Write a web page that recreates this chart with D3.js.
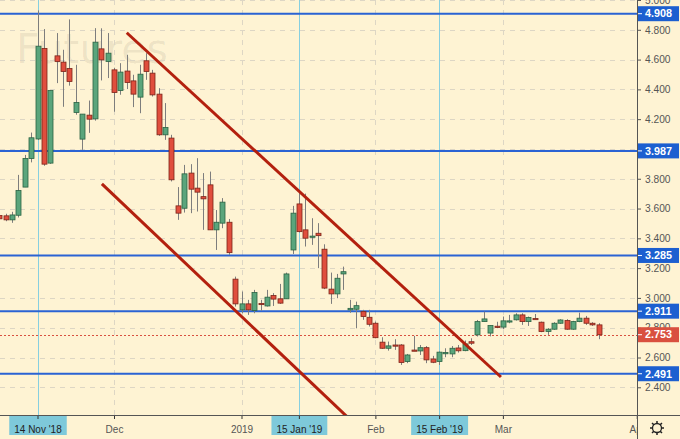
<!DOCTYPE html>
<html><head><meta charset="utf-8">
<script src="https://cdn.jsdelivr.net/npm/d3@7"></script>
<style>
html,body{margin:0;padding:0;background:#fef3d3;}
svg{display:block;font-family:"Liberation Sans",Arial,sans-serif;}
</style></head>
<body><svg id="c" width="680" height="439"></svg>
<script>
// ---- data ----
const startIndex = -2;
const opens  = [3.553,3.551,3.524,3.555,3.744,3.936,4.067,4.675,3.905,4.625,4.583,4.540,4.245,4.066,4.227,4.202,4.672,4.587,4.531,4.392,4.523,4.457,4.348,4.592,4.509,4.368,4.095,4.073,3.618,3.602,3.838,3.737,3.680,3.759,3.457,3.502,3.508,3.126,2.920,2.960,2.915,2.963,2.946,3.016,2.994,2.994,3.322,3.631,3.457,3.408,3.434,3.327,3.059,3.027,3.161,2.920,2.924,2.908,2.870,2.830,2.703,2.662,2.684,2.684,2.573,2.650,2.644,2.666,2.590,2.573,2.627,2.624,2.664,2.646,2.706,2.752,2.841,2.764,2.810,2.804,2.843,2.853,2.886,2.841,2.862,2.837,2.775,2.790,2.830,2.848,2.790,2.841,2.864,2.830,2.819];
const highs  = [3.560,3.565,3.578,3.826,3.960,4.110,4.930,4.805,4.392,4.778,4.666,4.870,4.565,4.234,4.325,4.811,4.810,4.778,4.545,4.576,4.632,4.498,4.565,4.643,4.531,4.408,4.308,4.095,3.744,3.893,3.898,3.938,3.838,3.848,3.590,3.670,3.530,3.143,3.043,2.987,3.054,2.987,3.054,3.032,3.094,3.170,3.618,3.703,3.700,3.535,3.502,3.360,3.170,3.161,3.210,2.987,2.975,2.920,2.920,2.841,2.736,2.707,2.723,2.690,2.624,2.745,2.684,2.677,2.611,2.640,2.662,2.677,2.684,2.714,2.729,2.852,2.908,2.815,2.840,2.875,2.886,2.897,2.897,2.875,2.892,2.841,2.797,2.837,2.857,2.857,2.846,2.901,2.879,2.837,2.830];
const lows   = [3.520,3.515,3.504,3.540,3.744,3.910,4.060,3.887,3.900,4.442,4.283,4.425,4.230,3.994,4.108,4.190,4.460,4.476,4.250,4.364,4.402,4.281,4.240,4.464,4.352,4.088,4.061,3.782,3.524,3.573,3.569,3.580,3.457,3.457,3.322,3.468,3.289,2.942,2.897,2.886,2.897,2.915,2.942,2.946,2.960,2.994,3.295,3.439,3.345,3.356,3.200,3.059,2.960,2.998,3.054,2.900,2.796,2.853,2.808,2.729,2.658,2.646,2.651,2.550,2.562,2.643,2.617,2.562,2.562,2.550,2.602,2.602,2.633,2.642,2.684,2.741,2.841,2.742,2.797,2.790,2.830,2.848,2.819,2.812,2.858,2.770,2.752,2.786,2.826,2.786,2.786,2.837,2.819,2.812,2.723];
const closes = [3.531,3.524,3.557,3.721,3.936,4.075,4.690,3.898,4.392,4.587,4.520,4.453,4.312,4.234,4.200,4.717,4.598,4.643,4.379,4.516,4.446,4.368,4.502,4.520,4.363,4.095,4.144,3.793,3.569,3.833,3.730,3.710,3.665,3.457,3.508,3.643,3.304,2.960,2.960,2.920,3.036,2.958,3.005,2.992,2.965,3.161,3.569,3.445,3.401,3.415,3.418,3.066,3.027,3.132,3.176,2.930,2.948,2.875,2.823,2.733,2.662,2.678,2.678,2.566,2.617,2.645,2.666,2.584,2.568,2.636,2.633,2.662,2.645,2.691,2.696,2.841,2.859,2.815,2.806,2.846,2.846,2.886,2.841,2.868,2.860,2.774,2.790,2.830,2.852,2.790,2.841,2.864,2.830,2.819,2.753];

const levels = [4.908, 3.987, 3.285, 2.911, 2.491];
const lastPrice = 2.753;
const priceTicks = [2.4, 2.6, 2.8, 3.0, 3.2, 3.4, 3.6, 3.8, 4.0, 4.2, 4.4, 4.6, 4.8, 5.0];
const hiddenTickLabels = [4.0]; // covered by the 3.987 level tag in the original

const dateTickIndex  = [4, 16, 36, 45, 57, 67, 77, 98];
const dateTickLabels = ["14 Nov '18", "Dec", "2019", "15 Jan '19", "Feb", "15 Feb '19", "Mar", "Apr"];
const highlighted    = [true, false, false, true, false, true, false, false];

// trend channel lines in data coordinates [index, price]
const upperLine = [[18.0, 4.78], [76.7, 2.469]];
const lowerLine = [[14.1, 3.766], [60.0, 1.90]];

// ---- layout ----
const W = 680, H = 439, plotR = 637, plotB = 415;
const svg = d3.select("#c");
const x = d3.scaleLinear().domain([0, 92]).range([12, 598.5]);
const y = d3.scaleLinear().domain([2.214, 5.0]).range([plotB, 0]);

svg.append("rect").attr("width", W).attr("height", H).attr("fill", "#fef3d3");
svg.append("defs").append("clipPath").attr("id", "clip")
  .append("rect").attr("x", 0).attr("y", 0).attr("width", plotR).attr("height", plotB);

const plot = svg.append("g").attr("clip-path", "url(#clip)");

// watermark
plot.append("text").attr("x", 16).attr("y", 63)
  .attr("font-family", "DejaVu Sans, Verdana, sans-serif").attr("font-size", 41)
  .attr("fill", "#000").attr("fill-opacity", 0.075).text("Futures");

// grids
plot.selectAll(".hg").data(priceTicks).join("line")
  .attr("x1", 0).attr("x2", plotR).attr("y1", d => Math.round(y(d)) + 0.5).attr("y2", d => Math.round(y(d)) + 0.5)
  .attr("stroke", "#ddd6c4").attr("stroke-dasharray", "5,5");
plot.selectAll(".vg").data(dateTickIndex.filter((d, i) => !highlighted[i])).join("line")
  .attr("x1", d => Math.round(x(d)) + 0.5).attr("x2", d => Math.round(x(d)) + 0.5).attr("y1", 0).attr("y2", plotB)
  .attr("stroke", "#ddd6c4").attr("stroke-dasharray", "5,5");

// highlighted vertical lines
plot.selectAll(".vh").data(dateTickIndex.filter((d, i) => highlighted[i])).join("line")
  .attr("x1", d => Math.round(x(d)) + 0.5).attr("x2", d => Math.round(x(d)) + 0.5).attr("y1", 0).attr("y2", plotB)
  .attr("stroke", "#86cfe0").attr("stroke-width", 1);

// level lines
plot.selectAll(".lv").data(levels).join("line")
  .attr("x1", 0).attr("x2", plotR).attr("y1", d => y(d)).attr("y2", d => y(d))
  .attr("stroke", "#2a63d3").attr("stroke-width", 2);

// last price dotted
plot.append("line").attr("x1", 0).attr("x2", plotR)
  .attr("y1", Math.round(y(lastPrice)) + 0.5).attr("y2", Math.round(y(lastPrice)) + 0.5)
  .attr("stroke", "#d9503f").attr("stroke-dasharray", "2,2").attr("stroke-width", 1);

// candles
const candles = opens.map((o, k) => ({i: startIndex + k, o, h: highs[k], l: lows[k], c: closes[k]}));
const cg = plot.append("g");
cg.selectAll(".wick").data(candles).join("line")
  .attr("x1", d => Math.round(x(d.i)) + 0.5).attr("x2", d => Math.round(x(d.i)) + 0.5)
  .attr("y1", d => y(d.h)).attr("y2", d => y(d.l))
  .attr("stroke", "#7d7d7d").attr("stroke-width", 1);
cg.selectAll(".body").data(candles).join("rect")
  .attr("x", d => Math.round(x(d.i)) - 2)
  .attr("width", 5)
  .attr("y", d => y(Math.max(d.o, d.c)))
  .attr("height", d => Math.max(1.2, Math.abs(y(d.o) - y(d.c))))
  .attr("fill", d => d.c >= d.o ? "#5aa57c" : "#e04e3d")
  .attr("stroke", d => d.c >= d.o ? "#2a6242" : "#7c2418")
  .attr("stroke-width", 0.8);

// trend lines
const ln = d3.line().x(d => x(d[0])).y(d => y(d[1]));
plot.selectAll(".tl").data([upperLine, lowerLine]).join("path")
  .attr("d", ln).attr("fill", "none").attr("stroke", "#b3200e").attr("stroke-width", 3);

// ---- right axis ----
const ra = svg.append("g").attr("transform", `translate(${plotR},0)`)
  .call(d3.axisRight(y).tickValues(priceTicks)
    .tickFormat(d => hiddenTickLabels.includes(d) ? "" : d3.format(".3f")(d))
    .tickSize(4).tickPadding(4));
ra.select(".domain").remove();
ra.selectAll("line").attr("stroke", "#555");
ra.selectAll("text").attr("fill", "#555").attr("font-size", 10.2).attr("font-family", "Liberation Sans, Arial, sans-serif");

function priceBox(v, fill) {
  const g = svg.append("g").attr("transform", `translate(${plotR},${y(v)})`);
  g.append("rect").attr("x", 1).attr("y", -7.5).attr("width", 41).attr("height", 15).attr("fill", fill);
  g.append("line").attr("x1", 1).attr("x2", 5).attr("y1", 0).attr("y2", 0).attr("stroke", "#fff");
  g.append("text").attr("x", 8).attr("y", 0).attr("dy", "0.35em")
    .attr("fill", "#fff").attr("font-size", 10.8).attr("font-weight", "bold")
    .attr("font-family", "Liberation Sans, Arial, sans-serif").text(d3.format(".3f")(v));
}
levels.forEach(v => priceBox(v, "#1c5fd0"));
priceBox(lastPrice, "#d9503f");

// ---- bottom axis ----
const ba = svg.append("g").attr("transform", `translate(0,${plotB})`)
  .call(d3.axisBottom(x).tickValues(dateTickIndex).tickFormat((d, i) => dateTickLabels[i]).tickSize(4).tickPadding(7));
ba.select(".domain").remove();
ba.selectAll("line").attr("stroke", "#333");
ba.selectAll("text").attr("fill", "#555").attr("font-size", 10).attr("font-family", "Liberation Sans, Arial, sans-serif");
ba.selectAll(".tick").each(function(d, i) {
  if (!highlighted[i]) return;
  const t = d3.select(this);
  const tw = this.querySelector("text").getComputedTextLength();
  t.insert("rect", ":first-child").attr("x", -tw / 2 - 5).attr("y", 0).attr("width", tw + 10).attr("height", 20).attr("fill", "#7ec9da");
  t.select("text").attr("fill", "#222");
});
// clip bottom labels at right axis
svg.append("rect").attr("x", plotR + 0.5).attr("y", plotB + 1).attr("width", W - plotR).attr("height", H - plotB).attr("fill", "#fef3d3");

// frame lines
svg.append("line").attr("x1", 0).attr("x2", W).attr("y1", plotB + 0.5).attr("y2", plotB + 0.5).attr("stroke", "#555");
svg.append("line").attr("x1", plotR + 0.5).attr("x2", plotR + 0.5).attr("y1", 0).attr("y2", H).attr("stroke", "#555");

// gear icon
const gear = svg.append("g").attr("transform", "translate(657,428)");
gear.append("circle").attr("r", 4.5).attr("fill", "none").attr("stroke", "#222").attr("stroke-width", 1.3);
d3.range(8).forEach(k => {
  const a = k * Math.PI / 4;
  gear.append("line").attr("x1", Math.cos(a) * 4.5).attr("y1", Math.sin(a) * 4.5)
    .attr("x2", Math.cos(a) * 7).attr("y2", Math.sin(a) * 7).attr("stroke", "#222").attr("stroke-width", 1.5);
});
</script></body></html>
